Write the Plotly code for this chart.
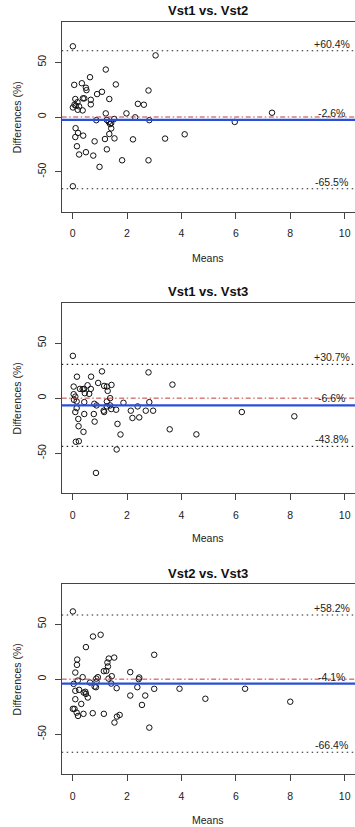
import plotly.graph_objects as go

# ---------------- data ----------------
titles = ["Vst1 vs. Vst2", "Vst1 vs. Vst3", "Vst2 vs. Vst3"]

means_12 = [0.01, 3.05, 1.22, 0.64, 0.06, 0.34, 1.59, 0.49, 0.51, 2.79,
            1.08, 0.90, 0.10, 0.38, 0.43, 0.67, 1.35, 0.18, 0.07, 0.12,
            0.24, 0.01, 0.19, 0.37, 0.67, 2.40, 2.62, 1.22, 1.98, 7.33,
            2.30, 0.87, 1.26, 1.53, 2.82, 1.33, 1.38, 1.42, 5.96, 0.11,
            1.42, 0.20, 1.35, 4.12, 0.10, 0.39, 1.19, 1.54, 2.22, 3.40,
            0.81, 0.16, 1.26, 0.49, 0.24, 0.76, 1.82, 2.79, 0.99, 0.01]
diffs_12 = [64.5, 56.2, 43.3, 36.3, 29.3, 30.8, 29.7, 26.7, 24.5, 24.2,
            23.0, 20.9, 16.4, 17.0, 17.0, 15.7, 16.4, 13.5, 11.2, 10.3,
            9.7, 8.7, 6.6, 6.0, 11.5, 12.0, 11.2, 3.3, 3.3, 3.9,
            -0.3, -2.9, -2.7, -1.8, -2.9, -4.6, -6.4, -5.5, -4.5, -10.2,
            -10.4, -14.5, -15.5, -15.8, -18.3, -17.0, -20.1, -19.5, -20.4, -19.7,
            -22.2, -26.7, -29.5, -32.1, -34.2, -35.2, -39.5, -39.5, -45.5, -63.2]

means_13 = [0.01, 2.79, 0.16, 0.68, 1.08, 0.94, 0.04, 0.27, 0.37, 0.42,
            0.55, 0.67, 1.16, 1.26, 1.43, 1.29, 0.04, 0.10, 0.05, 0.15,
            0.43, 1.38, 1.26, 1.87, 2.82, 0.80, 0.88, 1.26, 1.38, 0.10,
            0.43, 0.78, 1.14, 1.16, 1.42, 1.60, 2.14, 2.39, 2.20, 2.45,
            2.69, 2.96, 0.15, 0.21, 0.22, 0.81, 0.40, 1.65, 1.76, 0.12,
            0.23, 1.62, 0.86, 3.57, 3.67, 4.55, 6.22, 8.15, 0.45, 0.61]
diffs_13 = [38.4, 23.4, 19.5, 19.5, 24.3, 13.8, 10.5, 8.4, 8.1, 8.4,
            11.7, 8.4, 11.1, 10.5, 12.0, 6.6, 3.6, 1.4, -1.5, -3.0,
            -3.6, 0.0, -3.0, -4.2, -3.6, -5.1, -6.6, -7.5, -6.6, -12.6,
            -14.4, -14.4, -11.4, -12.6, -9.9, -10.5, -11.4, -7.5, -18.0, -17.5,
            -11.4, -11.4, -9.0, -18.9, -25.5, -21.3, -30.6, -23.4, -33.0, -39.6,
            -39.1, -46.6, -67.9, -28.3, 12.3, -32.9, -12.6, -16.5, 4.5, 3.9]

means_23 = [0.01, 0.75, 1.03, 0.49, 0.17, 0.16, 1.33, 1.53, 1.28, 1.30,
            1.24, 1.15, 3.00, 2.12, 0.10, 0.37, 0.19, 0.93, 0.87, 0.81,
            0.64, 1.32, 1.44, 2.45, 2.43, 2.38, 0.04, 0.88, 1.42, 1.62,
            0.86, 3.00, 0.10, 0.24, 0.41, 0.49, 0.56, 0.47, 0.10, 0.32,
            2.12, 2.67, 2.55, 0.01, 0.07, 0.15, 0.20, 0.40, 0.74, 1.15,
            1.63, 1.73, 1.54, 2.82, 3.93, 4.88, 6.34, 8.00]
diffs_23 = [61.5, 38.7, 40.3, 29.1, 17.8, 13.0, 18.7, 19.6, 15.1, 11.5,
            7.5, 7.3, 22.1, 6.4, 6.0, 1.8, -1.3, 1.8, 0.5, -6.7,
            -3.1, 0.5, 2.7, 1.5, 0.0, -7.3, -4.3, -2.2, -4.0, -8.2,
            -7.3, -8.8, -10.6, -9.7, -12.2, -13.4, -16.7, -11.5, -18.2, -22.5,
            -14.9, -14.9, -23.4, -27.0, -27.0, -30.4, -33.4, -31.5, -30.9, -31.5,
            -34.0, -32.5, -39.4, -44.0, -8.7, -17.8, -8.7, -20.5]

bias = [-2.6, -6.6, -4.1]
upper_loa = [60.4, 30.7, 58.2]
lower_loa = [-65.5, -43.8, -66.4]

x_ticks = [0, 2, 4, 6, 8, 10]
y_ticks = [-50, 0, 50]

series_x = [means_12, means_13, means_23]
series_y = [diffs_12, diffs_13, diffs_23]

# ---------------- layout geometry (pixels) ----------------
W, H = 355, 827
box_left = 61.7
boxes = [(22.3, 211.7), (303.0, 493.3), (584.0, 774.3)]  # (top, bottom) px
title_y = [11.0, 291.0, 573.0]
means_y = [258.0, 538.0, 820.0]

FONT = "Liberation Sans, Arial, Helvetica, sans-serif"
INK = "#222222"
BOX = "#444444"

def py(p):
    return 1 - p / H

def px(p):
    return p / W

fig = go.Figure()
annotations = []
shapes = []

for i in range(3):
    xa = "x" if i == 0 else f"x{i+1}"
    ya = "y" if i == 0 else f"y{i+1}"
    fig.add_trace(go.Scatter(
        x=series_x[i], y=series_y[i], mode="markers",
        xaxis=xa, yaxis=ya, showlegend=False,
        marker=dict(symbol="circle-open", size=5.5, color="#111111",
                    line=dict(width=1, color="#111111")),
        hoverinfo="x+y"))

    top, bot = boxes[i]
    xkey = "xaxis" if i == 0 else f"xaxis{i+1}"
    ykey = "yaxis" if i == 0 else f"yaxis{i+1}"
    fig.update_layout(**{
        xkey: dict(domain=[px(box_left), 1.0], range=[-0.4, 10.38],
                   anchor=ya, tickvals=x_ticks, ticktext=[str(t) for t in x_ticks],
                   ticks="outside", ticklen=6, tickwidth=1, tickcolor=BOX,
                   showline=True, linecolor=BOX, linewidth=1.2, mirror=True,
                   showgrid=False, zeroline=False,
                   tickfont=dict(family=FONT, size=10.5, color=INK),
                   ticklabelstandoff=6),
        ykey: dict(domain=[py(bot), py(top)], range=[-86.4, 86.4],
                   anchor=xa, tickvals=y_ticks, ticktext=[str(t) for t in y_ticks],
                   ticks="outside", ticklen=6, tickwidth=1, tickcolor=BOX,
                   showline=True, linecolor=BOX, linewidth=1.2, mirror=False,
                   showgrid=False, zeroline=False, tickangle=-90,
                   tickfont=dict(family=FONT, size=10.5, color=INK),
                   ticklabelstandoff=4),
    })

    xref = xa
    yref = ya
    dom = f"{xa} domain"
    # zero line (red dash-dot)
    shapes.append(dict(type="line", xref=dom, yref=yref, x0=0, x1=1, y0=0, y1=0,
                       line=dict(color="#C23B3B", width=1, dash="5px,2.5px,1.5px,2.5px"),
                       layer="above"))
    # mean difference (blue solid)
    shapes.append(dict(type="line", xref=dom, yref=yref, x0=0, x1=1,
                       y0=bias[i], y1=bias[i],
                       line=dict(color="#2A4FD6", width=2.2), layer="above"))
    # limits of agreement (black dotted)
    for v in (upper_loa[i], lower_loa[i]):
        shapes.append(dict(type="line", xref=dom, yref=yref, x0=0, x1=1, y0=v, y1=v,
                           line=dict(color="#222222", width=1.1, dash="1.5px,3.5px"),
                           layer="above"))

    labels = [(upper_loa[i], f"{upper_loa[i]:+.1f}%"),
              (bias[i], f"{bias[i]:.1f}%"),
              (lower_loa[i], f"{lower_loa[i]:.1f}%")]
    for v, t in labels:
        annotations.append(dict(x=9.52, y=v, xref=xref, yref=yref, text=t,
                                showarrow=False, xanchor="center", yanchor="bottom",
                                yshift=-1,
                                font=dict(family=FONT, size=10.5, color=INK)))

    # panel title
    annotations.append(dict(x=(px(box_left) + 1.0) / 2, y=py(title_y[i]),
                            xref="paper", yref="paper", text=f"<b>{titles[i]}</b>",
                            showarrow=False, xanchor="center", yanchor="middle",
                            font=dict(family=FONT, size=13, color="#111111")))
    # x axis title
    annotations.append(dict(x=(px(box_left) + 1.0) / 2, y=py(means_y[i]),
                            xref="paper", yref="paper", text="Means",
                            showarrow=False, xanchor="center", yanchor="middle",
                            font=dict(family=FONT, size=10.5, color=INK)))
    # y axis title
    annotations.append(dict(x=px(17.3), y=py((top + bot) / 2),
                            xref="paper", yref="paper", text="Differences (%)",
                            showarrow=False, xanchor="center", yanchor="middle",
                            textangle=-90,
                            font=dict(family=FONT, size=10.5, color=INK)))

fig.update_layout(width=W, height=H, margin=dict(l=0, r=0, t=0, b=0),
                  paper_bgcolor="white", plot_bgcolor="white",
                  annotations=annotations, shapes=shapes, showlegend=False)

fig.write_html("out.html", config={"displayModeBar": False})
